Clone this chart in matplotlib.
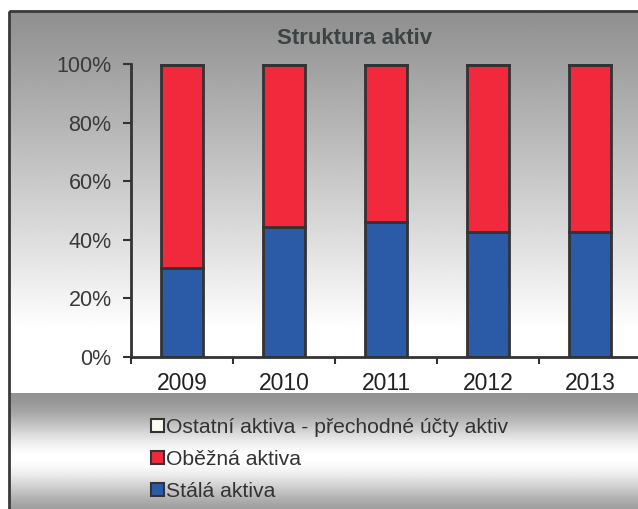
import matplotlib
matplotlib.use("Agg")
import matplotlib.pyplot as plt
import numpy as np
from matplotlib.patches import Patch, Rectangle
from matplotlib.ticker import PercentFormatter

plt.rcParams['font.family'] = ['Liberation Sans', 'DejaVu Sans']

years = ['2009', '2010', '2011', '2012', '2013']
stala = [30.4, 44.4, 46.0, 42.8, 42.8]
obezna = [69.3, 55.3, 53.7, 56.9, 56.9]
ostatni = [0.3, 0.3, 0.3, 0.3, 0.3]

labels = ['Ostatní aktiva - přechodné účty aktiv', 'Oběžná aktiva', 'Stálá aktiva']
c_blue = '#2b5ba6'
c_red = '#f2293d'
c_white = '#fbfbf2'
edge = '#333333'

W, H = 638, 509
fig = plt.figure(figsize=(W / 100, H / 100), dpi=100)

# background: gradients + frame, in pixel coords
bg = fig.add_axes([0, 0, 1, 1], zorder=-5)
bg.set_xlim(0, W)
bg.set_ylim(H, 0)
bg.axis('off')
top_grad = np.linspace(0.64, 1.0, 256) ** 1.3
top_grad = np.clip(top_grad / top_grad.max(), 0, 1)
bg.imshow(np.tile(top_grad[:, None], (1, 2)), cmap='gray', vmin=0, vmax=1,
          extent=(9, W + 2, 330, 11), aspect='auto', interpolation='bilinear')
t = np.linspace(0, 1, 256)
band = 1.0 - 0.42 * np.abs(np.cos(np.pi * t)) ** 1.8
bg.imshow(np.tile(band[:, None], (1, 2)), cmap='gray', vmin=0, vmax=1,
          extent=(9, W + 2, H + 14, 393), aspect='auto', interpolation='bilinear')
bg.add_patch(Rectangle((9, 11), W, H, fill=False, edgecolor='#3a3a3a', linewidth=2))

ax = fig.add_axes([131 / W, 1 - 357 / H, 510 / W, 293 / H])
ax.patch.set_alpha(0)
x = np.arange(len(years))
bw = 0.42
ax.bar(x, stala, bw, color=c_blue, edgecolor=edge, linewidth=2)
ax.bar(x, obezna, bw, bottom=stala, color=c_red, edgecolor=edge, linewidth=2)
ax.bar(x, ostatni, bw, bottom=np.add(stala, obezna), color=c_white, edgecolor=edge, linewidth=2)

ax.set_xlim(-0.5, 4.5)
ax.set_ylim(0, 100)
ax.yaxis.set_major_formatter(PercentFormatter(decimals=0))
ax.set_yticks(range(0, 101, 20))
ax.set_xticks(x)
ax.set_xticklabels(years)
ax.set_xticks(np.arange(-0.5, 5, 1), minor=True)
ax.tick_params(axis='x', which='major', length=0, pad=11, labelsize=16.5, labelcolor='#222222')
ax.tick_params(axis='x', which='minor', length=5, width=1.5, color='#333333')
ax.tick_params(axis='y', length=6, width=1.5, color='#333333', pad=8, labelsize=15.5,
               labelcolor='#3a3a3a')
for s in ['top', 'right']:
    ax.spines[s].set_visible(False)
for s in ['left', 'bottom']:
    ax.spines[s].set_color('#333333')
    ax.spines[s].set_linewidth(2)

fig.text(355 / W, 1 - 38 / H, 'Struktura aktiv', ha='center', va='center',
         fontsize=16, fontweight='bold', color='#3d4242')

handles = [Patch(facecolor=c_white, edgecolor=edge, linewidth=1.5),
           Patch(facecolor=c_red, edgecolor=edge, linewidth=1.5),
           Patch(facecolor=c_blue, edgecolor=edge, linewidth=1.5)]
fig.legend(handles, labels, loc='upper left', bbox_to_anchor=(151 / W, 1 - 418 / H),
           frameon=False, fontsize=15.2, handlelength=0.6, handleheight=0.6,
           handletextpad=0.12, labelspacing=0.62, borderaxespad=0, borderpad=0,
           labelcolor='#333333')

fig.savefig('out.png', dpi=100)
